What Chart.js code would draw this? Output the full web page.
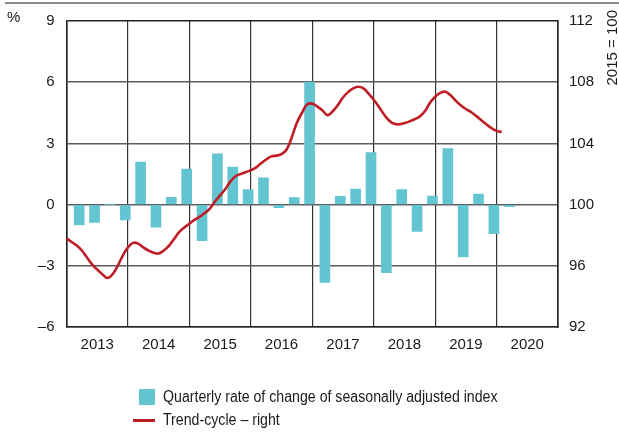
<!DOCTYPE html>
<html>
<head>
<meta charset="utf-8">
<script src="https://cdn.jsdelivr.net/npm/chart.js@4.4.1/dist/chart.umd.min.js"></script>
<style>
  body { margin: 0; background: #fff; font-family: "Liberation Sans", Arial, sans-serif; }
  #wrap { position: relative; width: 619px; height: 432px; }
  #rule { position: absolute; left: 5px; right: 0; top: 2px; height: 2px; background: #8a8a8a; }
  .leg { position: absolute; font-size: 16px; color: #1a1a1a; line-height: 18px; white-space: nowrap;
         transform: scaleX(0.885); transform-origin: left center; }
  .box { position: absolute; left: 139px; top: 389px; width: 16px; height: 16px; background: #63c4d2; }
  .ln { position: absolute; left: 133px; top: 419px; width: 22px; height: 3px; background: #bf1e24; }
</style>
</head>
<body>
<div id="wrap">
  <canvas id="chart" width="619" height="432"></canvas>
  <div id="rule"></div>
  <div class="box"></div>
  <div class="leg" style="left:163px;top:388px;">Quarterly rate of change of seasonally adjusted index</div>
  <div class="ln"></div>
  <div class="leg" style="left:163px;top:411px;">Trend-cycle – right</div>
</div>
<script>
// --- Data ---
const years = [2013, 2014, 2015, 2016, 2017, 2018, 2019, 2020];

// quarterly % change, 2013Q1 .. 2020Q1
const barValues = [
  -1.0, -0.87, 0, -0.75,
  2.08, -1.11, 0.36, 1.74,
  -1.77, 2.49, 1.84, 0.74,
  1.31, -0.15, 0.34, 6.0,
  -3.82, 0.4, 0.76, 2.55,
  -3.34, 0.74, -1.32, 0.42,
  2.74, -2.56, 0.52, -1.43,
  -0.1
];

// monthly trend-cycle index (2015 = 100), Jan 2013 .. Feb 2020
const trendValues = [
  97.8, 97.56, 97.32, 97.0, 96.54, 96.09, 95.75, 95.45, 95.2, 95.45, 96.0, 96.67,
  97.2, 97.5, 97.45, 97.2, 97.0, 96.85, 96.8, 97.0, 97.3, 97.75, 98.2, 98.5,
  98.75, 99.0, 99.2, 99.45, 99.74, 100.2, 100.6, 101.0, 101.5, 101.85, 102.0, 102.12,
  102.25, 102.42, 102.7, 102.95, 103.15, 103.2, 103.3, 103.6, 104.4, 105.35, 106.0, 106.55,
  106.6, 106.4, 106.15, 105.85, 106.1, 106.5, 107.0, 107.35, 107.6, 107.7, 107.6, 107.25,
  106.85, 106.4, 105.9, 105.5, 105.28, 105.25, 105.33, 105.44, 105.58, 105.76, 106.1, 106.65,
  107.05, 107.3, 107.38, 107.15, 106.8, 106.5, 106.25, 106.05, 105.8, 105.52, 105.25, 105.0,
  104.82, 104.75
];

const leftTicks = [-6, -3, 0, 3, 6, 9];
const rightTicks = [92, 96, 100, 104, 108, 112];

const quarterLabels = [];
years.forEach(y => { for (let q = 1; q <= 4; q++) quarterLabels.push(y + 'Q' + q); });

const trendPoints = trendValues.map((v, i) => ({ x: years[0] + i / 12, y: v }));

const FONT = '"Liberation Sans", Arial, sans-serif';
const GRID = '#5c5c5c';
const INK = '#1a1a1a';

// extra labels: "%" and "2015 = 100"
const axisNotes = {
  id: 'axisNotes',
  afterDraw(chart) {
    const ctx = chart.ctx;
    ctx.save();
    ctx.fillStyle = INK;
    ctx.font = '15px ' + FONT;
    ctx.textBaseline = 'middle';
    ctx.textAlign = 'left';
    ctx.fillText('%', 7, 18);
    ctx.translate(613, 10);
    ctx.rotate(-Math.PI / 2);
    ctx.textAlign = 'right';
    ctx.fillText('2015 = 100', 0, 0);
    ctx.restore();
  }
};

new Chart(document.getElementById('chart'), {
  data: {
    labels: quarterLabels,
    datasets: [
      {
        type: 'line',
        data: trendPoints,
        xAxisID: 'xl',
        yAxisID: 'y1',
        borderColor: '#bf1e24',
        borderWidth: 2.6,
        pointRadius: 0,
        tension: 0.4,
        order: 0
      },
      {
        type: 'bar',
        data: barValues,
        xAxisID: 'x',
        yAxisID: 'y',
        backgroundColor: '#63c4d2',
        borderWidth: 0,
        barThickness: 10,
        order: 1
      }
    ]
  },
  options: {
    responsive: false,
    animation: false,
    layout: { padding: { top: 17, left: 0, right: 0, bottom: 75 } },
    plugins: { legend: { display: false }, tooltip: { enabled: false } },
    scales: {
      x: {
        type: 'category',
        display: false,
        offset: true
      },
      xl: {
        type: 'linear',
        position: 'bottom',
        min: 2013,
        max: 2021,
        afterBuildTicks(scale) {
          const t = [];
          for (let v = 2013; v <= 2021; v += 0.5) t.push({ value: v });
          scale.ticks = t;
        },
        afterFit(scale) { scale.height = 30; },
        grid: {
          color: c => (c.tick && Number.isInteger(c.tick.value)) ? '#333' : 'rgba(0,0,0,0)',
          lineWidth: 1.2,
          drawTicks: false
        },
        border: { color: '#222', width: 1.6 },
        ticks: {
          autoSkip: false,
          maxRotation: 0,
          padding: 9,
          color: INK,
          font: { family: FONT, size: 15 },
          callback: v => Number.isInteger(v) ? '' : String(Math.floor(v))
        }
      },
      y: {
        position: 'left',
        min: -6,
        max: 9,
        afterBuildTicks(scale) { scale.ticks = leftTicks.map(v => ({ value: v })); },
        afterFit(scale) { scale.width = 66.5; },
        grid: { color: c => c.tick && c.tick.value === 9 ? '#222' : GRID, lineWidth: 1.4, drawTicks: false },
        border: { color: '#222', width: 1.6 },
        ticks: {
          padding: 12,
          color: INK,
          font: { family: FONT, size: 15 },
          callback: v => v < 0 ? '\u2013' + Math.abs(v) : String(v)
        }
      },
      y1: {
        position: 'right',
        min: 92,
        max: 112,
        afterBuildTicks(scale) { scale.ticks = rightTicks.map(v => ({ value: v })); },
        afterFit(scale) { scale.width = 61; },
        grid: { display: false, drawTicks: false },
        border: { color: '#222', width: 1.6 },
        ticks: {
          padding: 11,
          color: INK,
          font: { family: FONT, size: 15 }
        }
      }
    }
  },
  plugins: [axisNotes]
});
</script>
</body>
</html>
